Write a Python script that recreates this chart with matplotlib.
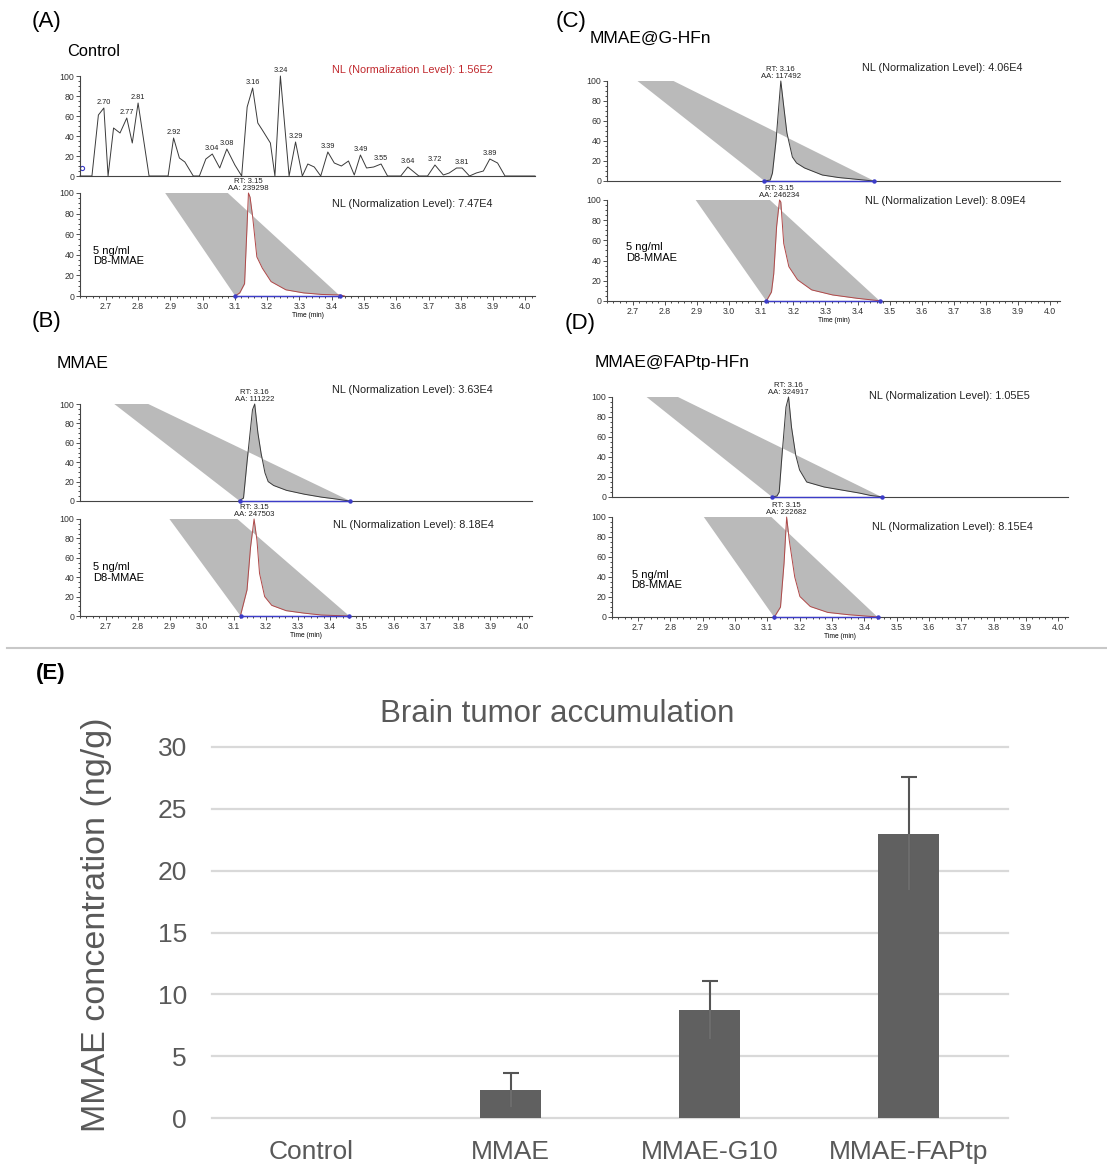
import numpy as np
import matplotlib.pyplot as plt
from matplotlib.patches import Polygon
from matplotlib.ticker import MultipleLocator, FormatStrFormatter

plt.rcParams['font.family'] = ['Liberation Sans', 'DejaVu Sans']

# ---------------- chromatogram data (time in min, relative abundance %) ----------------
# (A) Control, MMAE channel: noisy baseline
ctrl_t = [2.620, 2.657, 2.677, 2.694, 2.707, 2.724, 2.744, 2.765, 2.782, 2.800, 2.834,
          2.893, 2.910, 2.928, 2.945, 2.971, 2.990, 3.010, 3.030, 3.053, 3.075, 3.100,
          3.121, 3.138, 3.155, 3.171, 3.185, 3.210, 3.224, 3.241, 3.268, 3.288, 3.309,
          3.326, 3.346, 3.366, 3.388, 3.408, 3.430, 3.452, 3.470, 3.489, 3.508, 3.530,
          3.553, 3.573, 3.614, 3.636, 3.670, 3.697, 3.720, 3.746, 3.764, 3.787, 3.804,
          3.827, 3.848, 3.870, 3.890, 3.914, 3.937, 4.030]
ctrl_i = [0, 0, 61, 68, 0, 48, 43, 58, 33, 73, 0,
          0, 38, 18, 14, 0, 0, 17, 22, 8, 27, 11,
          0, 69, 88, 53, 46, 33, 0, 100, 0, 34, 0,
          12, 9, 0, 24, 13, 10, 15, 1, 21, 8, 9,
          12, 0, 0, 9, 0, 0, 11, 1, 3, 8, 8,
          0, 3, 5, 17, 13, 0, 0]
ctrl_peak_t = [2.694, 2.765, 2.800, 2.910, 3.030, 3.075, 3.155, 3.241, 3.288,
               3.388, 3.489, 3.553, 3.636, 3.720, 3.804, 3.890]
ctrl_peak_lbl = ['2.70', '2.77', '2.81', '2.92', '3.04', '3.08', '3.16', '3.24', '3.29',
                 '3.39', '3.49', '3.55', '3.64', '3.72', '3.81', '3.89']

# (A) D8-MMAE internal standard
a_d8_t = [3.100, 3.115, 3.125, 3.130, 3.142, 3.147, 3.155, 3.168, 3.185, 3.212, 3.258, 3.313, 3.370, 3.426, 3.440]
a_d8_i = [0, 3, 9, 12, 100, 96, 77, 38, 27, 14, 6, 3, 1.5, 1, 0]
a_d8_band = [(2.884, 100), (3.078, 100), (3.426, 0), (3.101, 0)]

# (B) MMAE
b_top_t = [3.115, 3.130, 3.141, 3.158, 3.165, 3.175, 3.185, 3.197, 3.207, 3.224, 3.264, 3.320, 3.373, 3.420, 3.460]
b_top_i = [0, 3, 40, 94, 100, 70, 49, 29, 20, 16, 11, 7, 4, 2, 0]
b_top_band = [(2.727, 100), (2.833, 100), (3.463, 0), (3.118, 0)]
b_d8_t = [3.121, 3.141, 3.152, 3.163, 3.172, 3.180, 3.196, 3.218, 3.263, 3.318, 3.373, 3.460]
b_d8_i = [1, 27, 71, 100, 78, 44, 20, 11, 5.5, 3, 1, 0]
b_d8_band = [(2.899, 100), (3.111, 100), (3.460, 0), (3.121, 0)]

# (C) MMAE@G-HFn
c_top_t = [3.110, 3.128, 3.135, 3.146, 3.161, 3.170, 3.180, 3.197, 3.210, 3.235, 3.290, 3.340, 3.397, 3.450]
c_top_i = [0, 1, 8, 40, 100, 75, 48, 24, 18, 13, 6, 3.5, 1.7, 0]
c_top_band = [(2.715, 100), (2.827, 100), (3.452, 0), (3.110, 0)]
c_d8_t = [3.116, 3.132, 3.139, 3.148, 3.157, 3.161, 3.170, 3.186, 3.213, 3.257, 3.322, 3.398, 3.475]
c_d8_i = [0, 9, 27, 74, 100, 98, 57, 34, 21, 11, 6, 2.7, 0]
c_d8_band = [(2.896, 100), (3.127, 100), (3.469, 0), (3.116, 0)]

# (D) MMAE@FAPtp-HFn
d_top_t = [3.115, 3.130, 3.137, 3.145, 3.158, 3.166, 3.175, 3.188, 3.200, 3.222, 3.276, 3.330, 3.384, 3.420, 3.460]
d_top_i = [0, 1, 5, 39, 90, 100, 70, 42, 27, 15, 10, 7, 4, 1.5, 0]
d_top_band = [(2.727, 100), (2.824, 100), (3.454, 0), (3.115, 0)]
d_d8_t = [3.122, 3.141, 3.152, 3.160, 3.168, 3.185, 3.201, 3.233, 3.287, 3.351, 3.443]
d_d8_i = [0, 10, 54, 100, 77, 40, 20.5, 10.5, 4.6, 2.3, 0]
d_d8_band = [(2.904, 100), (3.113, 100), (3.441, 0), (3.121, 0)]

# normalization levels and integration results
nl_values = ['1.56E2', '7.47E4', '3.63E4', '8.18E4', '4.06E4', '8.09E4', '1.05E5', '8.15E4']
rt_values = [None, '3.15', '3.16', '3.15', '3.16', '3.15', '3.16', '3.15']
aa_values = [None, '239298', '111222', '247503', '117492', '246234', '324917', '222682']

# ---------------- (E) bar chart data ----------------
groups = ['Control', 'MMAE', 'MMAE-G10', 'MMAE-FAPtp']
conc = [0, 2.25, 8.7, 23.0]
conc_err = [0, 1.35, 2.35, 4.6]

W, H = 1107, 1164
fig = plt.figure(figsize=(W / 100, H / 100), dpi=100)


def px_rect(x0, y0, x1, y1):
    return [x0 / W, 1 - y1 / H, (x1 - x0) / W, (y1 - y0) / H]


GRAY = '#bababa'
BLUE = '#3c3cc8'
TOP_LINE = '#3a3a3a'
D8_LINE = '#b04848'


def style_chrom(ax, bottom):
    ax.set_xlim(2.62, 4.03)
    ax.set_ylim(0, 100)
    for s in ['top', 'right']:
        ax.spines[s].set_visible(False)
    for s in ['left', 'bottom']:
        ax.spines[s].set_color('#444444')
        ax.spines[s].set_linewidth(0.8)
    ax.xaxis.set_major_locator(MultipleLocator(0.1))
    ax.xaxis.set_minor_locator(MultipleLocator(0.02))
    ax.xaxis.set_major_formatter(FormatStrFormatter('%.1f'))
    ax.yaxis.set_major_locator(MultipleLocator(20))
    ax.yaxis.set_minor_locator(MultipleLocator(5))
    ax.tick_params(labelsize=6.3, length=3, width=0.6, pad=1, colors='#333333')
    ax.tick_params(which='minor', length=1.6, width=0.5)
    if bottom:
        ax.set_xlabel('Time (min)', fontsize=4.8, labelpad=1)
    else:
        ax.tick_params(axis='x', which='both', bottom=False, labelbottom=False)
    ax.patch.set_alpha(0)


def draw_peak(ax, t, y, band, line_color):
    # gray area: peak area XOR the skewed band (as in the exported trace)
    ax.fill_between(t, 0, y, color=GRAY, lw=0, zorder=1)
    patch = Polygon(band, closed=True, facecolor=GRAY, edgecolor='none', zorder=1)
    ax.add_patch(patch)
    hole = ax.fill_between(t, 0, y, color='white', lw=0, zorder=2)
    hole.set_clip_path(patch)
    ax.plot(t, y, color=line_color, lw=0.7, zorder=3, clip_on=False)
    ax.plot([band[3][0], band[2][0]], [0, 0], color=BLUE, lw=1.0, marker='o',
            ms=2.2, zorder=4, clip_on=False)


def label_peak(ax, t, y, rt, aa):
    k = int(np.argmax(y))
    ax.annotate(f'RT: {rt}\nAA: {aa}', (t[k], y[k]), xytext=(0, 1), textcoords='offset points',
                ha='center', va='bottom', fontsize=5.6, linespacing=1.0, color='#222222',
                annotation_clip=False)


def nl_text(ax, x, y, nl, color='#222222'):
    ax.text(x, y, f'NL (Normalization Level): {nl}', transform=ax.transAxes,
            fontsize=7.8, color=color, ha='left', va='center')


def d8_text(ax, x, y):
    ax.text(x, y, '5 ng/ml\nD8-MMAE', transform=ax.transAxes, fontsize=8,
            ha='left', va='center', linespacing=1.05)


# ---- (A) ----
ax = fig.add_axes(px_rect(80, 76, 535, 176))
style_chrom(ax, False)
ax.plot(ctrl_t, ctrl_i, color=TOP_LINE, lw=0.7, zorder=3, clip_on=False)
ax.plot([2.625], [8], marker='o', ms=3, mfc='none', mec=BLUE, mew=0.8, clip_on=False)
for pt, lbl in zip(ctrl_peak_t, ctrl_peak_lbl):
    ax.annotate(lbl, (pt, np.interp(pt, ctrl_t, ctrl_i)), xytext=(0, 1.5),
                textcoords='offset points', ha='center', va='bottom', fontsize=5.3,
                color='#222222', annotation_clip=False)
nl_text(ax, 0.554, 1.06, nl_values[0], color='#c0282d')

ax = fig.add_axes(px_rect(80, 193, 535, 296))
style_chrom(ax, True)
draw_peak(ax, a_d8_t, a_d8_i, a_d8_band, D8_LINE)
label_peak(ax, a_d8_t, a_d8_i, rt_values[1], aa_values[1])
nl_text(ax, 0.554, 0.89, nl_values[1])
d8_text(ax, 0.028, 0.39)

# ---- (B) ----
ax = fig.add_axes(px_rect(80, 404, 532, 501))
style_chrom(ax, False)
draw_peak(ax, b_top_t, b_top_i, b_top_band, TOP_LINE)
label_peak(ax, b_top_t, b_top_i, rt_values[2], aa_values[2])
nl_text(ax, 0.558, 1.14, nl_values[2])

ax = fig.add_axes(px_rect(80, 519, 532, 616))
style_chrom(ax, True)
draw_peak(ax, b_d8_t, b_d8_i, b_d8_band, D8_LINE)
label_peak(ax, b_d8_t, b_d8_i, rt_values[3], aa_values[3])
nl_text(ax, 0.559, 0.94, nl_values[3])
d8_text(ax, 0.028, 0.45)

# ---- (C) ----
ax = fig.add_axes(px_rect(607, 81, 1060, 181))
style_chrom(ax, False)
draw_peak(ax, c_top_t, c_top_i, c_top_band, TOP_LINE)
label_peak(ax, c_top_t, c_top_i, rt_values[4], aa_values[4])
nl_text(ax, 0.562, 1.13, nl_values[4])

ax = fig.add_axes(px_rect(607, 200, 1060, 301))
style_chrom(ax, True)
draw_peak(ax, c_d8_t, c_d8_i, c_d8_band, D8_LINE)
label_peak(ax, c_d8_t, c_d8_i, rt_values[5], aa_values[5])
nl_text(ax, 0.570, 0.99, nl_values[5])
d8_text(ax, 0.043, 0.48)

# ---- (D) ----
ax = fig.add_axes(px_rect(612, 397, 1068, 497))
style_chrom(ax, False)
draw_peak(ax, d_top_t, d_top_i, d_top_band, TOP_LINE)
label_peak(ax, d_top_t, d_top_i, rt_values[6], aa_values[6])
nl_text(ax, 0.563, 1.01, nl_values[6])

ax = fig.add_axes(px_rect(612, 517, 1068, 617))
style_chrom(ax, True)
draw_peak(ax, d_d8_t, d_d8_i, d_d8_band, D8_LINE)
label_peak(ax, d_d8_t, d_d8_i, rt_values[7], aa_values[7])
nl_text(ax, 0.571, 0.90, nl_values[7])
d8_text(ax, 0.043, 0.37)

# panel labels and sample names
fig.text(32 / W, 1 - 22 / H, '(A)', fontsize=16, va='center', ha='left')
fig.text(67 / W, 1 - 52 / H, 'Control', fontsize=11.8, va='center', ha='left')
fig.text(32 / W, 1 - 322 / H, '(B)', fontsize=16, va='center', ha='left')
fig.text(57 / W, 1 - 363 / H, 'MMAE', fontsize=12.5, va='center', ha='left')
fig.text(556 / W, 1 - 21 / H, '(C)', fontsize=16, va='center', ha='left')
fig.text(590 / W, 1 - 38 / H, 'MMAE@G-HFn', fontsize=12.5, va='center', ha='left')
fig.text(565 / W, 1 - 324 / H, '(D)', fontsize=16, va='center', ha='left')
fig.text(595 / W, 1 - 363 / H, 'MMAE@FAPtp-HFn', fontsize=12.5, va='center', ha='left')

# separator between the chromatograms and the bar chart
fig.add_artist(plt.Line2D([7 / W, 1.0], [1 - 648 / H, 1 - 648 / H], color='#c8c8c8', lw=1.5))

# ---- (E) ----
fig.text(36 / W, 1 - 674 / H, '(E)', fontsize=16, fontweight='bold', va='center', ha='left')
ax_e = fig.add_axes(px_rect(212, 747, 1008, 1118))
x = np.arange(len(groups))
conc_a = np.array(conc)
err_a = np.array(conc_err)
ax_e.bar(x, conc_a, width=0.31, color='#606060', zorder=2)
has_err = err_a > 0
_, caps, _ = ax_e.errorbar(x[has_err], conc_a[has_err], yerr=err_a[has_err], fmt='none',
                           ecolor='#555555', elinewidth=1.5, capsize=6, capthick=1.5,
                           zorder=3, clip_on=False)
caps[0].set_visible(False)  # no cap on the lower whisker
# lower whisker shows only faintly against the bar
ax_e.vlines(x[has_err], conc_a[has_err] - err_a[has_err], conc_a[has_err],
            color='#6c6c6c', lw=1.5, zorder=4)
ax_e.set_xlim(-0.5, len(groups) - 0.5)
ax_e.set_ylim(0, 30)
ax_e.set_yticks(range(0, 31, 5))
ax_e.set_xticks(x)
ax_e.set_xticklabels(groups)
ax_e.yaxis.grid(True, color='#d9d9d9', lw=1.6)
for gl in ax_e.get_ygridlines():
    gl.set_clip_on(False)
ax_e.set_axisbelow(True)
for s in ax_e.spines.values():
    s.set_visible(False)
ax_e.tick_params(axis='both', length=0, labelsize=19, colors='#595959')
ax_e.tick_params(axis='y', pad=18)
ax_e.tick_params(axis='x', pad=16)
ax_e.set_title('Brain tumor accumulation', fontsize=22.5, color='#595959', x=0.434, pad=18)
ax_e.set_ylabel('MMAE concentration (ng/g)', fontsize=24.5, color='#595959')
ax_e.yaxis.set_label_coords(-0.125, 0.52)

fig.savefig('out.png', dpi=100)
